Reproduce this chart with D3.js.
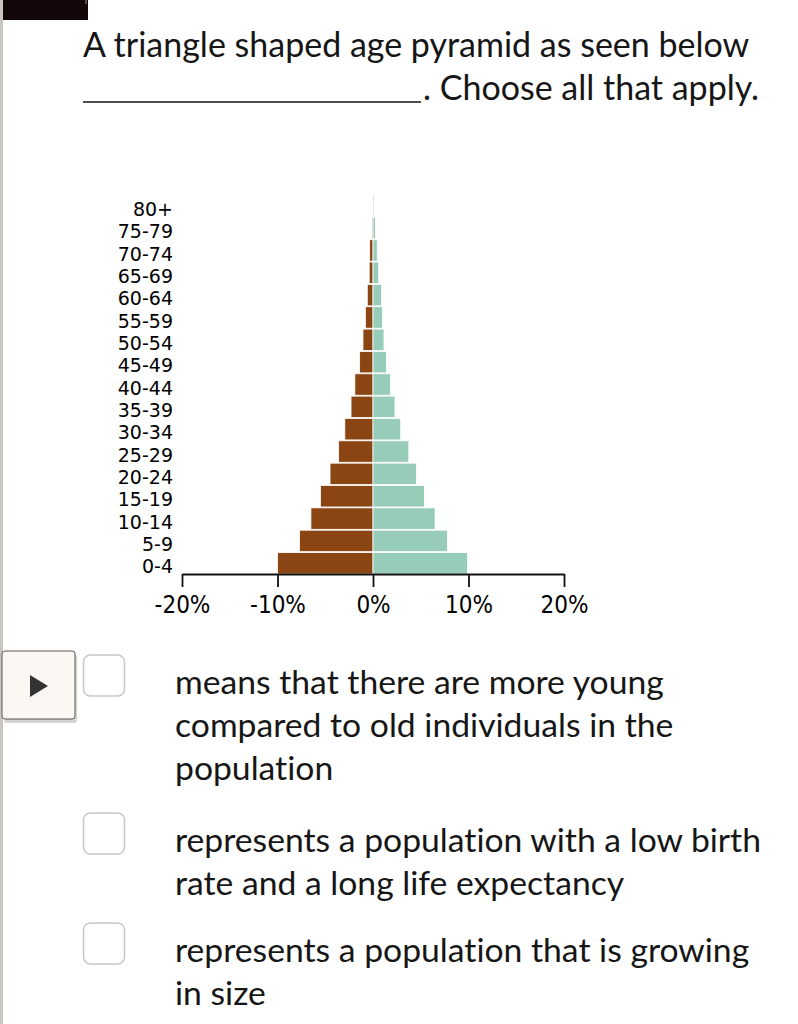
<!DOCTYPE html>
<html>
<head>
<meta charset="utf-8">
<script src="https://cdn.jsdelivr.net/npm/d3@7"></script>
<style>
  html, body { margin: 0; padding: 0; background: #fff; }
  svg { display: block; }
  .q { font-family: Lato, "Open Sans", sans-serif; fill: #161616; font-variant-ligatures: none; }
  .ax text { fill: #000; }
</style>
</head>
<body>
<svg id="page" width="798" height="1024"></svg>
<script>
// age groups, oldest first (top of the pyramid)
var ageGroups = ["80+", "75-79", "70-74", "65-69", "60-64", "55-59", "50-54", "45-49", "40-44",
                 "35-39", "30-34", "25-29", "20-24", "15-19", "10-14", "5-9", "0-4"];
// percent of population, same order as ageGroups
var maleValues   = [0.05, 0.1, 0.35, 0.4, 0.6, 0.8, 1.05, 1.4, 1.9, 2.3, 2.95, 3.6, 4.5, 5.5, 6.5, 7.7, 10.0];
var femaleValues = [0.1, 0.25, 0.45, 0.6, 0.9, 1.0, 1.15, 1.4, 1.85, 2.3, 2.9, 3.75, 4.55, 5.4, 6.5, 7.8, 9.9];
var xTicks = [-20, -10, 0, 10, 20];

var questionLines = ["A triangle shaped age pyramid as seen below", ". Choose all that apply."];
var options = [
    ["means that there are more young", "compared to old individuals in the", "population"],
    ["represents a population with a low birth", "rate and a long life expectancy"],
    ["represents a population that is growing", "in size"]
];

var svg = d3.select("#page");

// page chrome
svg.append("rect").attr("x", 0).attr("y", 0).attr("width", 3).attr("height", 1024).attr("fill", "#c9c5c1");
svg.append("rect").attr("x", 3).attr("y", 0).attr("width", 85).attr("height", 20).attr("fill", "#130709");
svg.append("line").attr("x1", 86).attr("x2", 86).attr("y1", 0).attr("y2", 4).attr("stroke", "#999");

// question
svg.append("text").attr("class", "q").attr("x", 83).attr("y", 57).attr("font-size", 34)
    .text(questionLines[0]);
svg.append("line").attr("x1", 83).attr("x2", 421).attr("y1", 102).attr("y2", 102)
    .attr("stroke", "#111").attr("stroke-width", 1.5);
svg.append("text").attr("class", "q").attr("x", 423).attr("y", 100).attr("font-size", 34)
    .text(questionLines[1]);

//// the pyramid
var x = d3.scaleLinear().domain([-20, 20]).range([182, 564]);
var y = d3.scaleBand().domain(ageGroups).range([195, 574]).paddingInner(0.04);

var g = svg.append("g");

g.append("g").selectAll("rect")
    .data(maleValues)
  .enter().append("rect")
    .attr("x", function (d) { return x(-d); })
    .attr("y", function (d, i) { return y(ageGroups[i]); })
    .attr("width", function (d) { return x(0) - x(-d); })
    .attr("height", y.bandwidth())
    .attr("fill", "#8b4513")
    .attr("stroke", "#fff").attr("stroke-width", 0.8);

g.append("g").selectAll("rect")
    .data(femaleValues)
  .enter().append("rect")
    .attr("x", x(0))
    .attr("y", function (d, i) { return y(ageGroups[i]); })
    .attr("width", function (d) { return x(d) - x(0); })
    .attr("height", y.bandwidth())
    .attr("fill", "#96ccb8")
    .attr("stroke", "#fff").attr("stroke-width", 0.8);

// x axis
var xAxis = d3.axisBottom(x).tickValues(xTicks).tickSize(13).tickSizeOuter(0).tickPadding(9)
    .tickFormat(function (d) { return d + "%"; });
var gx = g.append("g").attr("class", "ax").attr("transform", "translate(0,574)").call(xAxis);
gx.attr("font-family", "'DejaVu Sans Condensed', 'DejaVu Sans', sans-serif");
gx.select(".domain").attr("stroke", "#111").attr("stroke-width", 1.8);
gx.selectAll(".tick line").attr("stroke", "#111").attr("stroke-width", 1.8);
gx.selectAll(".tick text").attr("font-size", 24);

// y labels
var yAxis = d3.axisLeft(y).tickSize(0).tickPadding(0);
var gy = g.append("g").attr("class", "ax").attr("transform", "translate(173,4)").call(yAxis);
gy.attr("font-family", "'DejaVu Sans', sans-serif");
gy.select(".domain").remove();
gy.selectAll(".tick text").attr("font-size", 19);

//// play button
var btn = svg.append("g");
btn.append("rect").attr("x", 3).attr("y", 653).attr("width", 73).attr("height", 68).attr("rx", 3)
    .attr("fill", "#555").attr("opacity", 0.25).attr("transform", "translate(1,2)");
btn.append("rect").attr("x", 2).attr("y", 651).attr("width", 73).attr("height", 68).attr("rx", 3)
    .attr("fill", "#fbf8f4").attr("stroke", "#5a5550").attr("stroke-width", 1);
btn.append("path").attr("d", "M30,675 L30,697 L48,686 Z").attr("fill", "#333");

//// options
var optTop = [655, 813, 923];
options.forEach(function (lines, k) {
    svg.append("rect").attr("x", 83.5).attr("y", optTop[k]).attr("width", 41).attr("height", 41).attr("rx", 7)
        .attr("fill", "#fff").attr("stroke", "#c8c6c2").attr("stroke-width", 1.5);
    lines.forEach(function (line, j) {
        svg.append("text").attr("class", "q").attr("x", 175).attr("y", optTop[k] + 39 + j * 43)
            .attr("font-size", 33.7).text(line);
    });
});
</script>
</body>
</html>
